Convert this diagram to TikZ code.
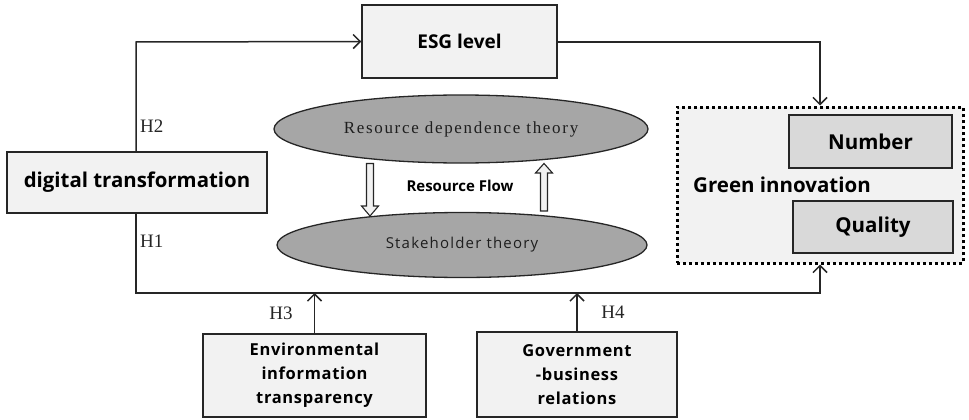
\documentclass[tikz,border=0pt]{standalone}
\usepackage{fontspec}
\setmainfont{Liberation Serif}
\newfontfamily\osans{Open Sans}
\newfontfamily\osanswide[LetterSpace=4]{Open Sans}
\newfontfamily\serifwide[LetterSpace=10]{Liberation Serif}
\newfontfamily\sanswide[LetterSpace=8]{Open Sans}
\usetikzlibrary{arrows.meta,shapes.geometric}
\definecolor{boxfill}{RGB}{242,242,242}
\definecolor{innerfill}{RGB}{217,217,217}
\definecolor{ellfill}{RGB}{166,166,166}
\definecolor{linec}{RGB}{38,38,38}
\definecolor{ellc}{RGB}{30,30,30}
\tikzset{
  box/.style={draw=linec, line width=1.5pt, fill=boxfill, inner sep=0pt, align=center, font=\osans\bfseries\fontsize{20.4}{24}\selectfont},
  smallbox/.style={box, font=\osanswide\bfseries\fontsize{16.5}{24}\selectfont},
  innerbox/.style={box, fill=innerfill, font=\osans\bfseries\fontsize{20.5}{24}\selectfont},
  theory/.style={ellipse, draw=linec, line width=1.3pt, fill=ellfill, inner sep=0pt, text=ellc},
  conn/.style={draw=linec, line width=1.5pt, -{Straight Barb[length=7pt,width=14pt,line width=1.5pt]}},
  hlab/.style={font=\fontsize{19}{22}\selectfont, text=linec, inner sep=0pt},
  blockarrow/.style={draw=linec, line width=1.1pt, fill=boxfill, line join=miter}
}
\begin{document}
\begin{tikzpicture}[x=1pt,y=-1pt]
\useasboundingbox (0,0) rectangle (969,420);
% nodes
\node[box, minimum width=195pt, minimum height=73pt, font=\osans\bfseries\fontsize{19}{24}\selectfont] (esg) at (459.5,41.5) {ESG level};
\node[box, minimum width=260pt, minimum height=61pt] (dt) at (137,182.5) {digital transformation};
\node[theory, minimum width=374pt, minimum height=68pt, font=\serifwide\fontsize{17}{20}\selectfont] (rdt) at (461,129) {Resource dependence theory};
\node[theory, minimum width=370pt, minimum height=65pt, font=\sanswide\fontsize{15}{18}\selectfont] (sht) at (462,245) {Stakeholder theory};
\node[draw=black, line width=3pt, dash pattern=on 3pt off 3pt, fill=boxfill, minimum width=286pt, minimum height=156pt, inner sep=0pt] (green) at (820,185) {};
\node[innerbox, minimum width=163pt, minimum height=53pt] (num) at (870.5,141.5) {Number};
\node[innerbox, minimum width=160pt, minimum height=52pt] (qual) at (873,227) {Quality};
\node[anchor=west, inner sep=0pt, font=\osans\bfseries\fontsize{20.5}{24}\selectfont] (gi) at (693,185) {Green innovation};
\node[inner sep=0pt, font=\osans\bfseries\fontsize{15}{18}\selectfont] (rf) at (460,186) {Resource Flow};
\node[smallbox, minimum width=223pt, minimum height=83pt] (env) at (314.5,375.5) {Environmental\\information\\transparency};
\node[smallbox, minimum width=200pt, minimum height=85pt] (gov) at (577,374.5) {Government\\-business\\relations};
% H labels
\node[hlab, anchor=west] (h2) at (140,126) {H2};
\node[hlab, anchor=west] (h1) at (140,241) {H1};
\node[hlab] (h3) at (281,313) {H3};
\node[hlab] (h4) at (613,312) {H4};
% connectors
\coordinate (c1) at (136,42);
\draw[conn] (dt.north -| c1) -- (c1) -- (esg.west);
\coordinate (c2) at (820,42);
\draw[conn] (esg.east |- c2) -- (c2) -- (green.north);
\coordinate (c3) at (136,293);
\coordinate (c4) at (820,293);
\draw[conn] (dt.south -| c3) -- (c3) -- (c4) -- (green.south);
\draw[conn] (env.north) -- (env.north |- c3);
\draw[conn] (gov.north) -- (gov.north |- c3);
% block arrows (resource flow)
\draw[blockarrow] (366.5,163.5) -- (373.5,163.5) -- (373.5,206) -- (378.5,206) -- (370,216) -- (361.5,206) -- (366.5,206) -- cycle;
\draw[blockarrow] (540.5,211) -- (547.5,211) -- (547.5,173) -- (552.5,173) -- (544,163.5) -- (535.5,173) -- (540.5,173) -- cycle;
\end{tikzpicture}
\end{document}
